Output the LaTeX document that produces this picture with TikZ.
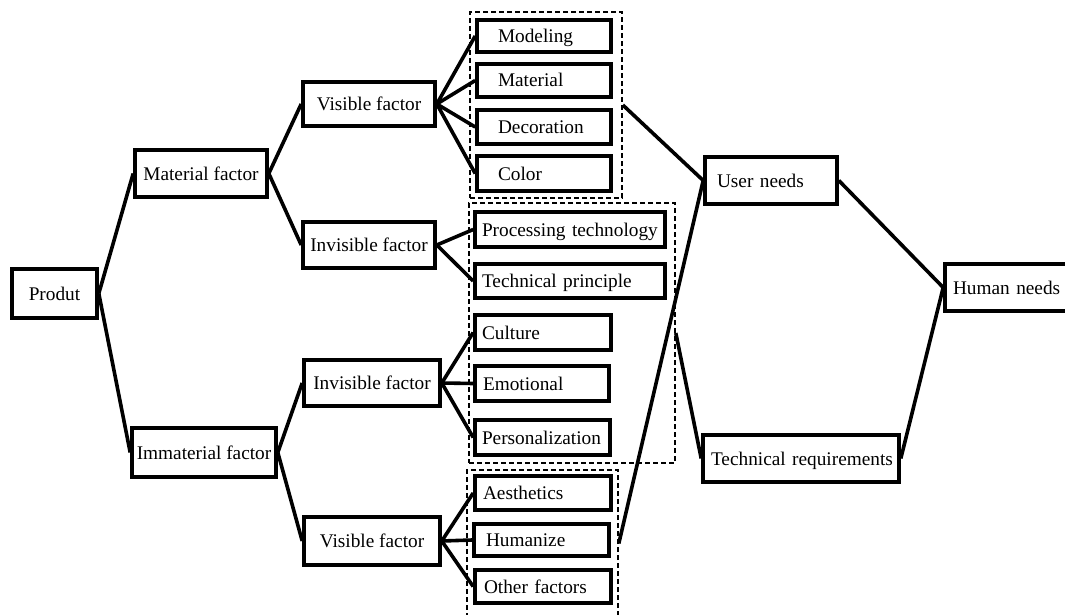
\documentclass[tikz,border=0pt]{standalone}
\usepackage{fontspec}
\setmainfont{Liberation Serif}
\begin{document}
\begin{tikzpicture}[x=1pt,y=-1pt,
  font=\fontsize{19.3}{22}\selectfont,
  bx/.style={draw, line width=3.6pt, rectangle, inner ysep=0pt, inner xsep=0pt, text height=13pt, text depth=0pt},
  lb/.style 2 args={bx, text width=#1, inner xsep=#2, align=left},
  dbx/.style={draw, line width=1.6pt, dash pattern=on 5pt off 3pt, rectangle, inner sep=0pt},
  ln/.style={line width=3.6pt}
]
\useasboundingbox (0,0) rectangle (1065,615);

% dashed groups
\node[dbx, minimum width=152pt, minimum height=186pt] (d1) at (546,105) {};
\node[dbx, minimum width=206pt, minimum height=260pt] (d2) at (572,333) {};
\node[dbx, minimum width=151pt, minimum height=147pt] (d3) at (542.5,543.5) {};

% left tree
\node[bx, minimum width=85pt, minimum height=49pt] (prod) at (54.5,293.5) {Produt};
\node[bx, minimum width=132pt, minimum height=47pt] (mat) at (201,173.5) {Material factor};
\node[bx, minimum width=144pt, minimum height=49pt] (imm) at (204,452.5) {Immaterial factor};
\node[bx, minimum width=132pt, minimum height=44pt] (vis1) at (369,104) {Visible factor};
\node[bx, minimum width=132pt, minimum height=46pt] (inv1) at (369,245) {Invisible factor};
\node[bx, minimum width=136pt, minimum height=46pt] (inv2) at (372,383) {Invisible factor};
\node[bx, minimum width=136pt, minimum height=48pt] (vis2) at (372,541) {Visible factor};

% leaves
\node[lb={92pt}{21pt}, minimum height=32pt] (mod) at (544,36) {\mbox{Modeling}};
\node[lb={92pt}{21pt}, minimum height=33pt] (mtl) at (544,80.5) {\mbox{Material}};
\node[lb={92pt}{21pt}, minimum height=34pt] (dec) at (544,127) {\mbox{Decoration}};
\node[lb={92pt}{21pt}, minimum height=35pt] (col) at (544,173.5) {\mbox{Color}};
\node[lb={176pt}{7pt}, minimum height=35pt] (proc) at (570,229.5) {\mbox{Processing technology}};
\node[lb={176pt}{7pt}, minimum height=34pt] (tech) at (570,281) {\mbox{Technical principle}};
\node[lb={122pt}{7pt}, minimum height=35pt] (cul) at (543,332.5) {\mbox{Culture}};
\node[lb={118pt}{8pt}, minimum height=35pt] (emo) at (542,383.5) {\mbox{Emotional}};
\node[lb={121pt}{7pt}, minimum height=35pt] (per) at (542.5,437.5) {\mbox{Personalization}};
\node[lb={120pt}{8pt}, minimum height=34pt] (aes) at (543,493) {\mbox{Aesthetics}};
\node[lb={111pt}{12pt}, minimum height=32pt] (hum) at (541.5,540) {\mbox{Humanize}};
\node[lb={118pt}{9pt}, minimum height=33pt] (oth) at (543,586.5) {\mbox{Other factors}};

% right side
\node[lb={108pt}{12pt}, minimum height=47pt] (user) at (771,180.5) {\mbox{User needs}};
\node[lb={109pt}{8pt}, minimum height=47pt] (human) at (1007.5,287.5) {\mbox{Human needs}};
\node[lb={180pt}{8pt}, minimum height=47pt] (treq) at (801,458.5) {\mbox{Technical requirements}};

% connectors
\draw[ln] (prod.east) -- (mat.west);
\draw[ln] (prod.east) -- (imm.west);
\draw[ln] (mat.east) -- (vis1.west);
\draw[ln] (mat.east) -- (inv1.west);
\draw[ln] (imm.east) -- (inv2.west);
\draw[ln] (imm.east) -- (vis2.west);
\foreach \t in {mod,mtl,dec,col} \draw[ln] (vis1.east) -- (\t.west);
\foreach \t in {proc,tech} \draw[ln] (inv1.east) -- (\t.west);
\foreach \t in {cul,emo,per} \draw[ln] (inv2.east) -- (\t.west);
\foreach \t in {aes,hum,oth} \draw[ln] (vis2.east) -- (\t.west);
\draw[ln] (d1.east) -- (user.west);
\draw[ln] (d3.east) -- (user.west);
\draw[ln] (d2.east) -- (treq.west);
\draw[ln] (user.east) -- (human.west);
\draw[ln] (treq.east) -- (human.west);
\end{tikzpicture}
\end{document}
